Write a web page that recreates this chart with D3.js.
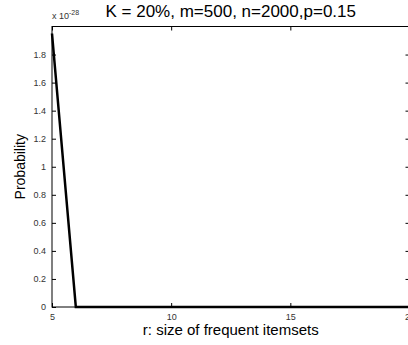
<!DOCTYPE html>
<html>
<head>
<meta charset="utf-8">
<script src="https://cdn.jsdelivr.net/npm/d3@7"></script>
<style>
  body { margin: 0; background: #fff; }
  svg { display: block; font-family: "Liberation Sans", Arial, sans-serif; }
</style>
</head>
<body>
<div id="chart"></div>
<script>
// 数据
const rValues = [5, 6, 7, 8, 9, 10, 11, 12, 13, 14, 15, 16, 17, 18, 19, 20];
const probValues = [1.95e-28, 0, 0, 0, 0, 0, 0, 0, 0, 0, 0, 0, 0, 0, 0, 0];
const xTicks = [5, 10, 15, 20];
const yTicks = [0, 0.2, 0.4, 0.6, 0.8, 1, 1.2, 1.4, 1.6, 1.8];
const yExp = -28;
const titleText = 'K = 20%, m=500, n=2000,p=0.15';
const xLabel = 'r: size of frequent itemsets';
const yLabel = 'Probability';

const width = 408, height = 345;
const margin = { top: 26.5, right: -1.5, bottom: 38, left: 52 };
const scaleFactor = Math.pow(10, yExp);

const svg = d3.select('#chart').append('svg')
    .attr('width', width)
    .attr('height', height);

const x = d3.scaleLinear()
    .domain([5, 20])
    .range([margin.left, width - margin.right]);

const y = d3.scaleLinear()
    .domain([0, 2 * scaleFactor])
    .range([height - margin.bottom, margin.top]);

const x0 = margin.left, x1 = width - margin.right;
const y0 = height - margin.bottom, y1 = margin.top;
const tickLen = 4;

// 坐标轴 (刻度朝内)
const axisB = svg.append('g')
    .attr('transform', `translate(0,${y0})`)
    .call(d3.axisBottom(x).tickValues(xTicks).tickSize(-tickLen).tickPadding(7).tickFormat(d3.format('d')));
const axisT = svg.append('g')
    .attr('transform', `translate(0,${y1})`)
    .call(d3.axisTop(x).tickValues(xTicks).tickSize(-tickLen).tickFormat(''));
const axisL = svg.append('g')
    .attr('transform', `translate(${x0},0)`)
    .call(d3.axisLeft(y).tickValues(yTicks.map(v => v * scaleFactor)).tickSize(-tickLen).tickPadding(6)
        .tickFormat(v => d3.format('~g')(+(v / scaleFactor).toFixed(1))));
const axisR = svg.append('g')
    .attr('transform', `translate(${x1},0)`)
    .call(d3.axisRight(y).tickValues(yTicks.map(v => v * scaleFactor)).tickSize(-tickLen).tickFormat(''));

[axisB, axisT, axisL, axisR].forEach(g => {
    g.select('.domain').remove();
    g.selectAll('line').attr('stroke', '#000').attr('stroke-width', 1);
    g.selectAll('text').attr('fill', '#333').style('font-size', '9px');
});

// 边框
svg.append('rect')
    .attr('x', x0).attr('y', y1)
    .attr('width', x1 - x0).attr('height', y0 - y1)
    .attr('fill', 'none').attr('stroke', '#000').attr('stroke-width', 1);

// 折线
const line = d3.line()
    .x((d, i) => x(rValues[i]))
    .y(d => y(d));

svg.append('path')
    .datum(probValues)
    .attr('fill', 'none')
    .attr('stroke', '#000')
    .attr('stroke-width', 2.5)
    .attr('d', line);

// 指数标注
const expText = svg.append('text')
    .attr('x', x0)
    .attr('y', 19)
    .style('font-size', '9px')
    .attr('fill', '#333');
expText.append('tspan').text('x 10');
expText.append('tspan').attr('dy', -4).style('font-size', '7px').text(yExp);

// 标题
svg.append('text')
    .attr('x', (x0 + x1) / 2)
    .attr('y', 17)
    .attr('text-anchor', 'middle')
    .style('font-size', '17px')
    .text(titleText);

svg.append('text')
    .attr('x', (x0 + x1) / 2)
    .attr('y', 335)
    .attr('text-anchor', 'middle')
    .style('font-size', '15px')
    .text(xLabel);

svg.append('text')
    .attr('transform', `translate(25,${(y0 + y1) / 2}) rotate(-90)`)
    .attr('text-anchor', 'middle')
    .style('font-size', '14px')
    .text(yLabel);
</script>
</body>
</html>
